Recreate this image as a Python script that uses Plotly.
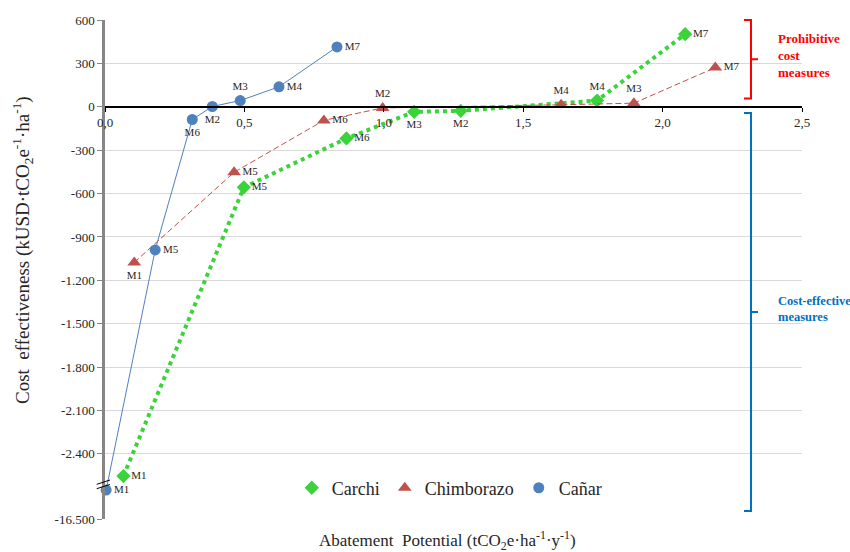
import plotly.graph_objects as go

# ---- data: abatement potential (x) and cost effectiveness (y, kUSD per tCO2e per ha) ----
carchi_labels = ["M1", "M5", "M6", "M3", "M2", "M4", "M7"]
carchi_x = [0.066, 0.498, 0.866, 1.109, 1.276, 1.765, 2.081]
carchi_y = [-2553, -557, -219, -35, -28, 43, 502]

chimborazo_labels = ["M1", "M5", "M6", "M2", "M4", "M3", "M7"]
chimborazo_x = [0.105, 0.463, 0.785, 0.996, 1.636, 1.897, 2.189]
chimborazo_y = [-1076, -453, -94, -8, 14, 25, 271]

canar_labels = ["M1", "M5", "M6", "M2", "M3", "M4", "M7"]
canar_x = [0.004, 0.180, 0.313, 0.385, 0.485, 0.624, 0.832]
canar_y = [-16100, -990, -88, 2, 43, 138, 414]

y_tick_values = [-16500, -2400, -2100, -1800, -1500, -1200, -900, -600, -300, 0, 300, 600]
x_tick_values = [0.0, 0.5, 1.0, 1.5, 2.0, 2.5]

# text positions of the point labels
carchi_textpos = ["middle right", "middle right", "middle right", "bottom center",
                  "bottom center", "top center", "middle right"]
chimborazo_textpos = ["bottom center", "middle right", "middle right", "top center",
                      "top center", "top center", "middle right"]
canar_textpos = ["middle right", "middle right", "bottom center", "bottom center",
                 "top center", "middle right", "middle right"]

# ---- broken y axis: the far-negative band is compressed below the break ----
BOTTOM_REAL, BOTTOM_DISP = -16500, -2850
BREAK_REAL, BREAK_DISP = -16000, -2600


def to_disp(v):
    if v >= BREAK_DISP:
        return v
    return BOTTOM_DISP + (v - BOTTOM_REAL) * (BREAK_DISP - BOTTOM_DISP) / (BREAK_REAL - BOTTOM_REAL)


def fmt_thousands(v):
    s = f"{abs(v):,}".replace(",", ".")
    return ("-" if v < 0 else "") + s


SERIF = "Liberation Serif"
GREEN = "#3ad33a"
RED = "#c0504d"
BLUE = "#4f81bd"

fig = go.Figure()

series = [
    ("Carchi", carchi_x, carchi_y, carchi_labels, carchi_textpos, GREEN,
     dict(color=GREEN, width=4, dash="dot"), dict(symbol="diamond", size=11)),
    ("Chimborazo", chimborazo_x, chimborazo_y, chimborazo_labels, chimborazo_textpos, RED,
     dict(color=RED, width=1, dash="6px,3px"), dict(symbol="triangle-up", size=12)),
    ("Cañar", canar_x, canar_y, canar_labels, canar_textpos, BLUE,
     dict(color=BLUE, width=1), dict(symbol="circle", size=11)),
]

for name, xs, ys, labels, tpos, color, line, marker in series:
    yd = [to_disp(v) for v in ys]
    fig.add_trace(go.Scatter(
        x=xs, y=yd, mode="lines", line=line, showlegend=False, hoverinfo="skip",
    ))
    fig.add_trace(go.Scatter(
        x=xs, y=yd, mode="markers+text", name=name,
        marker=dict(color=color, **marker),
        text=labels, textposition=tpos,
        textfont=dict(family=SERIF, size=11, color="#262626"),
        customdata=ys, hovertemplate="%{x}, %{customdata}<extra>" + name + "</extra>",
        cliponaxis=False,
    ))

y_range = [BOTTOM_DISP, 600]
zero_pos = (0 - y_range[0]) / (y_range[1] - y_range[0])

fig.update_layout(
    width=850, height=552,
    margin=dict(l=105, r=48, t=20, b=33),
    paper_bgcolor="white", plot_bgcolor="white",
    separators=",.",
    font=dict(family=SERIF, size=13, color="#262626"),
    xaxis=dict(
        range=[0, 2.5], tickvals=x_tick_values, tickformat=".1f",
        showgrid=False, zeroline=False,
        showline=True, linecolor="black", linewidth=1.5,
        ticks="outside", ticklen=4, tickcolor="black",
        anchor="free", position=zero_pos,
        tickfont=dict(family=SERIF, size=13, color="#262626"),
    ),
    yaxis=dict(
        range=y_range,
        tickvals=[to_disp(v) for v in y_tick_values],
        ticktext=[fmt_thousands(v) for v in y_tick_values],
        showgrid=True, gridcolor="#d9d9d9", gridwidth=1,
        zeroline=False,
        showline=True, linecolor="#868686", linewidth=2.5,
        ticks="outside", ticklen=5, tickcolor="#868686",
        tickfont=dict(family=SERIF, size=13, color="#262626"),
    ),
    legend=dict(
        orientation="h", x=0.268, y=0.062, xanchor="left", yanchor="middle",
        font=dict(family=SERIF, size=18, color="#262626"),
        bgcolor="rgba(0,0,0,0)", itemwidth=30,
    ),
    showlegend=True,
)


def px_x(p):
    return (p - 105) / 697


def px_y(p):
    return (519 - p) / 499


shapes = []
# axis-break marks
for y0, y1 in [(484.3, 480.0), (488.7, 484.5)]:
    shapes.append(dict(type="line", xref="paper", yref="paper",
                       x0=px_x(96.7), y0=px_y(y0), x1=px_x(110), y1=px_y(y1),
                       line=dict(color="black", width=1)))


def bracket(top, bottom, color):
    xl, xv, xr = px_x(744), px_x(751), px_x(758)
    yt, yb = px_y(top), px_y(bottom)
    ym = (yt + yb) / 2
    path = (f"M {xl},{yt} L {xv},{yt} L {xv},{yb} L {xl},{yb} "
            f"M {xv},{ym} L {xr},{ym}")
    return dict(type="path", xref="paper", yref="paper", path=path,
                line=dict(color=color, width=2))


shapes.append(bracket(20, 98.6, "#ff0000"))
shapes.append(bracket(113, 511, "#0070c0"))
fig.update_layout(shapes=shapes)

annotations = [
    dict(text="<b>Prohibitive<br>cost<br>measures</b>", xref="paper", yref="paper",
         x=px_x(776), y=px_y(56), xanchor="left", yanchor="middle", align="left",
         showarrow=False, font=dict(family=SERIF, size=13, color="#ff0000")),
    dict(text="<b>Cost-effective<br>measures</b>", xref="paper", yref="paper",
         x=px_x(776), y=px_y(309), xanchor="left", yanchor="middle", align="left",
         showarrow=False, font=dict(family=SERIF, size=12.5, color="#0070c0")),
    dict(text="Abatement  Potential (tCO<sub>2</sub>e·ha<sup>-1</sup>·y<sup>-1</sup>)",
         xref="paper", yref="paper", x=px_x(447), y=px_y(540),
         xanchor="center", yanchor="middle", showarrow=False,
         font=dict(family=SERIF, size=17, color="#262626")),
    dict(text="Cost  effectiveness (kUSD·tCO<sub>2</sub>e<sup>-1</sup>·ha<sup>-1</sup>)",
         xref="paper", yref="paper", x=px_x(22), y=px_y(250), textangle=-90,
         xanchor="center", yanchor="middle", showarrow=False,
         font=dict(family=SERIF, size=19, color="#262626")),
]
fig.update_layout(annotations=annotations)

fig.write_html("out.html")
